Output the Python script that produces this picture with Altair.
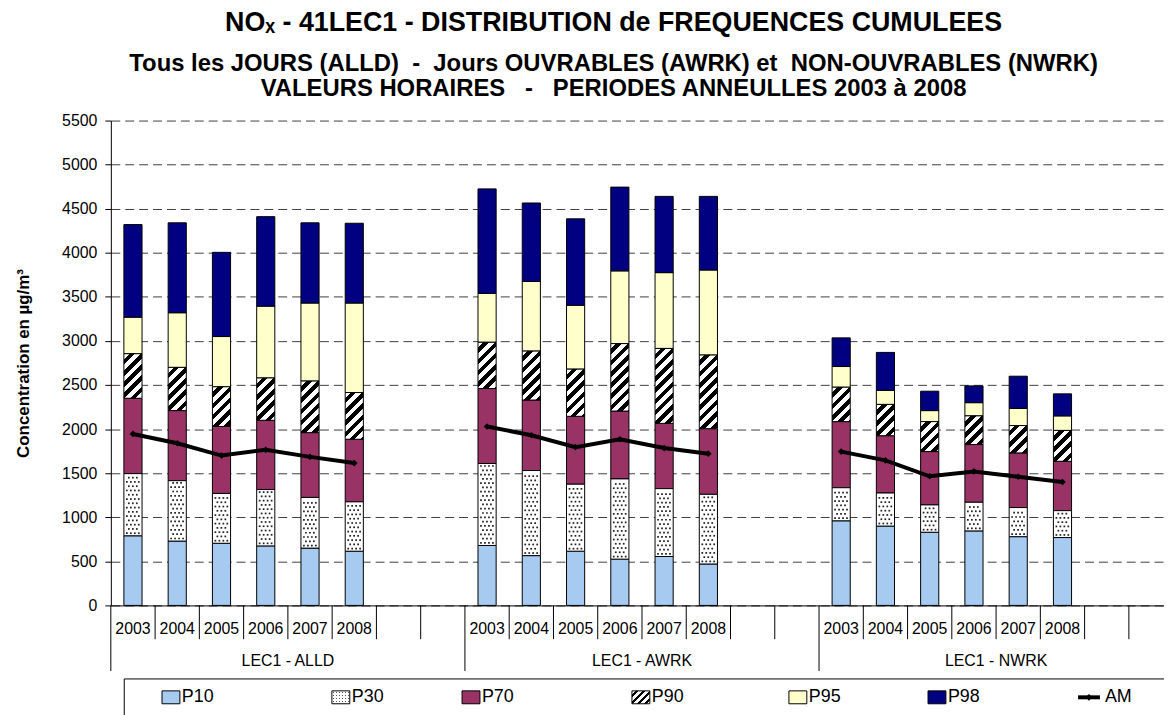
import math
import altair as alt
import pandas as pd

FONT = "Liberation Sans, Arial, Helvetica, sans-serif"

# ---------------- data ----------------
years = ["2003", "2004", "2005", "2006", "2007", "2008"]
groups = ["LEC1 - ALLD", "LEC1 - AWRK", "LEC1 - NWRK"]
series = ["P10", "P30", "P70", "P90", "P95", "P98"]
legend_names = ["P10", "P30", "P70", "P90", "P95", "P98", "AM"]

# cumulative percentile values, group order ALLD, AWRK, NWRK, years 2003..2008
p10 = [790, 730, 705, 675, 650, 615, 680, 565, 615, 525, 555, 470, 960, 900, 830, 845, 780, 770]
p30 = [1495, 1415, 1270, 1315, 1225, 1175, 1610, 1530, 1375, 1435, 1325, 1260, 1335, 1275, 1140, 1170, 1110, 1075]
p70 = [2350, 2210, 2030, 2100, 1960, 1885, 2460, 2330, 2145, 2205, 2065, 2005, 2085, 1925, 1745, 1825, 1730, 1635]
p90 = [2855, 2700, 2480, 2580, 2545, 2415, 2985, 2885, 2680, 2970, 2915, 2840, 2475, 2280, 2085, 2150, 2040, 1985]
p95 = [3270, 3320, 3050, 3395, 3430, 3430, 3540, 3675, 3405, 3795, 3775, 3805, 2710, 2440, 2210, 2300, 2235, 2150]
p98 = [4320, 4340, 4005, 4410, 4340, 4335, 4725, 4565, 4385, 4745, 4640, 4640, 3035, 2870, 2430, 2490, 2600, 2400]
am = [1945, 1840, 1700, 1765, 1685, 1615, 2030, 1930, 1795, 1885, 1785, 1720, 1745, 1645, 1465, 1520, 1460, 1400]

y_ticks = list(range(0, 5501, 500))

NB = "\u00a0"
title_line1 = "NOₓ - 41LEC1 - DISTRIBUTION de FREQUENCES CUMULEES"
title_line2 = ("Tous les JOURS (ALLD)" + NB * 2 + "-" + NB * 2 + "Jours OUVRABLES (AWRK) et"
               + NB * 2 + "NON-OUVRABLES (NWRK)")
title_line3 = "VALEURS HORAIRES" + NB * 3 + "-" + NB * 3 + "PERIODES ANNEULLES 2003 à 2008"

# ---------------- layout ----------------
SLOTS = 8            # 6 years + 2 empty category slots per group
SLOT_PX = 44.55
W = 1060
H = 488
YMAX = 5500
HALF = 0.205         # half bar width in slot units
PX_PER_UNIT = H / YMAX
BAR_W = 2 * HALF * SLOT_PX

colors = {"P10": "#A6CAF0", "P70": "#993366", "P95": "#FFFFCC", "P98": "#000080"}

xs = alt.Scale(domain=[0, W / SLOT_PX], nice=False, zero=False)
ys = alt.Scale(domain=[0, YMAX], nice=False)

yaxis = alt.Axis(values=y_ticks, format="d", grid=True, gridDash=[9, 5], gridColor="#404040",
                 gridWidth=1, tickSize=6, tickColor="black", domainColor="black",
                 labelFontSize=16, labelColor="black", labelFont=FONT, labelPadding=8,
                 title="Concentration en µg/m³", titleFont=FONT, titleFontSize=17,
                 titleFontWeight="bold", titleColor="black", titlePadding=29)
xaxis = alt.Axis(labels=False, ticks=False, grid=False, domain=True, domainColor="black",
                 title="")


def X(field):
    return alt.X(field, type="quantitative", scale=xs, axis=xaxis)


def Y(field):
    return alt.Y(field, type="quantitative", scale=ys, axis=yaxis)


vals = [p10, p30, p70, p90, p95, p98]
rows, am_rows = [], []
for g in range(len(groups)):
    for i in range(len(years)):
        k = g * len(years) + i
        slot = g * SLOTS + i
        lo = 0
        for s, arr in zip(series, vals):
            rows.append(dict(bar=k, series=s, xl=slot + 0.5 - HALF, xr=slot + 0.5 + HALF,
                             lo=lo, hi=arr[k]))
            lo = arr[k]
        am_rows.append(dict(group=groups[g], xl=slot + 0.5, lo=am[k]))
bars = pd.DataFrame(rows)
am_df = pd.DataFrame(am_rows)

# dotted pattern points for P30 segments
dot_rows = []
dy = 4.3 / PX_PER_UNIT
for k in range(len(p10)):
    seg = bars[(bars.bar == k) & (bars.series == "P30")].iloc[0]
    y = seg.lo + dy * 0.6
    r = 0
    while y < seg.hi - dy * 0.4:
        offs = [3, 7, 11, 15] if r % 2 == 0 else [5, 9, 13]
        for o in offs:
            dot_rows.append(dict(xl=seg.xl + o / SLOT_PX, lo=y))
        y += dy
        r += 1
dots = pd.DataFrame(dot_rows)


def stripes(w, h, period=8.0, black=0.5):
    a = w * h * (w + h) / (w * w + h * h)
    n = (w + h) / math.sqrt(2) / period
    stops = []
    k = 0
    while k / n < 1:
        t0 = k / n
        tb = min((k + 1 - black) / n, 1)
        tc = min((k + 1) / n, 1)
        stops += [(t0, "#ffffff"), (tb, "#ffffff"), (tb, "#000000"), (tc, "#000000")]
        k += 1
    return {"gradient": "linear", "x1": 0, "y1": 0, "x2": a / h, "y2": a / w,
            "stops": [{"offset": round(o, 5), "color": c} for o, c in stops]}


layers = []
solid = alt.Chart(bars).transform_filter(
    alt.FieldOneOfPredicate(field="series", oneOf=list(colors.keys()))
).mark_rect(stroke="black", strokeWidth=1).encode(
    x=X("xl"), x2="xr:Q", y=Y("lo"), y2="hi:Q",
    fill=alt.Fill("series:N", scale=alt.Scale(domain=list(colors.keys()),
                                              range=list(colors.values())), legend=None),
)
layers.append(solid)

layers.append(alt.Chart(bars).transform_filter(alt.datum.series == "P30").mark_rect(
    fill="white", stroke="black", strokeWidth=1).encode(
    x=X("xl"), x2="xr:Q", y=Y("lo"), y2="hi:Q"))

layers.append(alt.Chart(dots).mark_square(size=3, color="#222222", opacity=1).encode(
    x=X("xl"), y=Y("lo")))

for k in range(len(p10)):
    h = (p90[k] - p70[k]) * PX_PER_UNIT
    layers.append(
        alt.Chart(bars).transform_filter(
            (alt.datum.series == "P90") & (alt.datum.bar == k)
        ).mark_rect(fill=stripes(BAR_W, h), stroke="black", strokeWidth=1).encode(
            x=X("xl"), x2="xr:Q", y=Y("lo"), y2="hi:Q")
    )

layers.append(alt.Chart(am_df).mark_line(color="black", strokeWidth=4).encode(
    x=X("xl"), y=Y("lo"), detail="group:N"))
layers.append(alt.Chart(am_df).mark_point(shape="diamond", filled=True, color="black",
                                          size=45, opacity=1).encode(x=X("xl"), y=Y("lo")))

# hierarchical category axis
sep_small = pd.DataFrame({"xl": [g * SLOTS + j for g in range(len(groups)) for j in range(1, SLOTS)]})
sep_big = pd.DataFrame({"xl": [g * SLOTS for g in range(len(groups) + 1)]})
year_lab = pd.DataFrame([dict(xl=g * SLOTS + i + 0.5, label=y)
                         for g in range(len(groups)) for i, y in enumerate(years)])
group_lab = pd.DataFrame([dict(xl=g * SLOTS + SLOTS / 2, label=n) for g, n in enumerate(groups)])

layers.append(alt.Chart(sep_small).mark_rule(color="black", strokeWidth=1).encode(
    x=X("xl"), y=alt.value(H), y2=alt.value(H + 34)))
layers.append(alt.Chart(sep_big).mark_rule(color="black", strokeWidth=1).encode(
    x=X("xl"), y=alt.value(H), y2=alt.value(H + 66)))
layers.append(alt.Chart(year_lab).mark_text(font=FONT, fontSize=16, color="black",
                                            baseline="middle").encode(
    x=X("xl"), y=alt.value(H + 24), text="label:N"))
layers.append(alt.Chart(group_lab).mark_text(font=FONT, fontSize=16, color="black",
                                             baseline="middle").encode(
    x=X("xl"), y=alt.value(H + 56), text="label:N"))

# legend (pixel layout below the plot)
one = pd.DataFrame({"a": [0]})
LEG_TOP = 562
SW_Y, SW_Y2 = 574, 587
TXT_Y = 580.5
sw_left = [51.5, 222.5, 353.5, 524.5, 682.5, 822.5]
am_left = 973.5

layers.append(alt.Chart(one).mark_rect(fill="white", fillOpacity=0, stroke="black",
                                       strokeWidth=1).encode(
    x=alt.value(13.5), x2=alt.value(1200), y=alt.value(LEG_TOP), y2=alt.value(700)))

for name, left in zip(series, sw_left):
    enc = dict(x=alt.value(left), x2=alt.value(left + 18), y=alt.value(SW_Y), y2=alt.value(SW_Y2))
    if name in colors:
        layers.append(alt.Chart(one).mark_rect(fill=colors[name], stroke="black",
                                               strokeWidth=1).encode(**enc))
    elif name == "P90":
        layers.append(alt.Chart(one).mark_rect(fill=stripes(18, 13, period=5.0),
                                               stroke="black", strokeWidth=1).encode(**enc))
    else:
        vstops, hstops = [], []
        for j in range(6):
            c = 1.5 + 3 * j
            vstops += [((c - 0.6) / 18, "#ffffff"), ((c - 0.6) / 18, "#555555"),
                       ((c + 0.6) / 18, "#555555"), ((c + 0.6) / 18, "#ffffff")]
        for j in range(4):
            c = 2 + 3 * j
            hstops += [((c - 0.6) / 13, "rgba(255,255,255,1)"), ((c - 0.6) / 13, "rgba(255,255,255,0)"),
                       ((c + 0.6) / 13, "rgba(255,255,255,0)"), ((c + 0.6) / 13, "rgba(255,255,255,1)")]
        vgrad = {"gradient": "linear", "x1": 0, "y1": 0, "x2": 1, "y2": 0,
                 "stops": [{"offset": round(o, 4), "color": c} for o, c in vstops]}
        hgrad = {"gradient": "linear", "x1": 0, "y1": 0, "x2": 0, "y2": 1,
                 "stops": [{"offset": round(o, 4), "color": c} for o, c in hstops]}
        layers.append(alt.Chart(one).mark_rect(fill=vgrad).encode(**enc))
        layers.append(alt.Chart(one).mark_rect(fill=hgrad).encode(**enc))
        layers.append(alt.Chart(one).mark_rect(fill="white", fillOpacity=0, stroke="black",
                                               strokeWidth=1).encode(**enc))
    layers.append(alt.Chart(one).mark_text(font=FONT, fontSize=18, color="black", align="left",
                                           baseline="middle").encode(
        x=alt.value(left + 20), y=alt.value(TXT_Y), text=alt.value(name)))

layers.append(alt.Chart(one).mark_rule(color="black", strokeWidth=4).encode(
    x=alt.value(am_left), x2=alt.value(am_left + 22), y=alt.value(TXT_Y)))
layers.append(alt.Chart(one).mark_point(shape="diamond", filled=True, color="black", size=45,
                                        opacity=1).encode(
    x=alt.value(am_left + 11), y=alt.value(TXT_Y)))
layers.append(alt.Chart(one).mark_text(font=FONT, fontSize=18, color="black", align="left",
                                       baseline="middle").encode(
    x=alt.value(am_left + 27), y=alt.value(TXT_Y), text=alt.value(legend_names[-1])))

title = alt.TitleParams(
    text=title_line1,
    subtitle=[title_line2, title_line3],
    anchor="middle", font=FONT, fontSize=27, fontWeight="bold", color="black",
    subtitleFont=FONT, subtitleFontSize=24, subtitleFontWeight="bold", subtitleColor="black",
    subtitleLineHeight=25, subtitlePadding=15, offset=11, dx=-24,
)

chart = alt.layer(*layers).properties(
    width=W, height=H, title=title,
    autosize=alt.AutoSizeParams(type="none"),
    padding={"left": 103.5, "top": 111, "right": 0, "bottom": 108},
).configure(background="white").configure_view(strokeWidth=0)

chart.save("out.html", embed_options={"renderer": "svg", "actions": False})
